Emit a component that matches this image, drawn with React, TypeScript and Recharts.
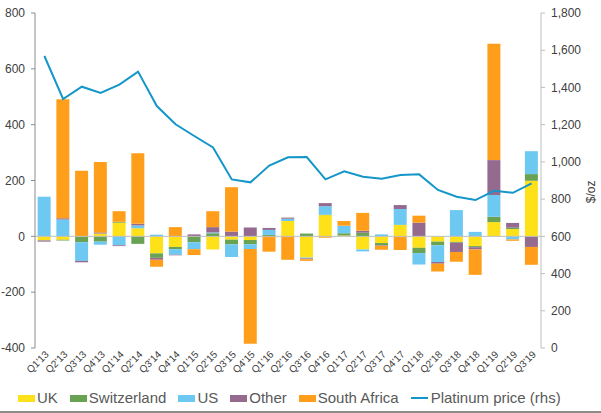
import { ComposedChart, Bar, Line, XAxis, YAxis, ReferenceLine, Legend } from 'recharts';

const quarters = [
  "Q1'13", "Q2'13", "Q3'13", "Q4'13", "Q1'14", "Q2'14", "Q3'14", "Q4'14", "Q1'15",
  "Q2'15", "Q3'15", "Q4'15", "Q1'16", "Q2'16", "Q3'16", "Q4'16", "Q1'17", "Q2'17",
  "Q3'17", "Q4'17", "Q1'18", "Q2'18", "Q3'18", "Q4'18", "Q1'19", "Q2'19", "Q3'19",
];

const uk = [-14, -12, 0, 10, 49, 29, -61, -38, 0, -47, -12, -13, 0, 55, -76, 76, 3, -47, -24, 41, -41, -19, -20, -35, 51, 26, 199];
const switzerland = [-1, -3, -21, -19, 3, -27, -16, -8, -21, 11, -17, -15, 5, 0, 10, 2, 8, 13, -8, 0, -19, -13, -3, -4, 19, 5, 24];
const us = [142, 60, -67, -11, -32, 10, 6, -20, -25, 3, -45, -17, 18, 8, -3, 30, 27, -7, 7, 57, -41, -60, 94, 16, 78, -11, 82];
const other = [-4, 5, -5, 4, -3, 6, -7, -2, 7, 19, 17, 32, 7, 4, -3, 11, 0, 7, -2, 14, 49, -6, -33, -8, 125, 17, -38];
const southAfrica = [0, 426, 235, 252, 38, 253, -25, 33, -21, 57, 159, -340, -55, -84, -6, -5, 17, 64, -14, -49, 25, -28, -35, -91, 417, -5, -64];
const platinumPrice = [1569, 1338, 1404, 1370, 1415, 1485, 1300, 1202, 1139, 1078, 906, 890, 980, 1025, 1026, 906, 949, 920, 910, 929, 933, 849, 813, 795, 845, 834, 885];

const leftTicks = [-400, -200, 0, 200, 400, 600, 800];
const rightTicks = [0, 200, 400, 600, 800, 1000, 1200, 1400, 1600, 1800];

const data = quarters.map((q, i) => ({
  q,
  uk: uk[i],
  switzerland: switzerland[i],
  us: us[i],
  other: other[i],
  southAfrica: southAfrica[i],
  price: platinumPrice[i],
}));

const series = [
  { key: 'uk', name: 'UK', color: '#FFE11A' },
  { key: 'switzerland', name: 'Switzerland', color: '#6AA253' },
  { key: 'us', name: 'US', color: '#6DC8F2' },
  { key: 'other', name: 'Other', color: '#956A8F' },
  { key: 'southAfrica', name: 'South Africa', color: '#FF9E1A' },
];
const lineColor = '#1497C8';
const font = '"Liberation Sans", Arial, sans-serif';

const QuarterTick = (props: any) => {
  const { x, y, payload } = props;
  const ax = x + 5;
  return (
    <text x={ax} y={y} transform={`rotate(-45, ${ax}, ${y})`} textAnchor="end"
      fontSize={10} fill="#404040" fontFamily={font}>
      {payload.value}
    </text>
  );
};

const LegendContent = () => (
  <div style={{ display: 'flex', alignItems: 'center', paddingLeft: 18, fontSize: 15, lineHeight: '20px', color: '#595959', fontFamily: font, whiteSpace: 'nowrap' }}>
    {series.map((s) => (
      <span key={s.key} style={{ display: 'flex', alignItems: 'center', marginRight: 12 }}>
        <span style={{ width: 17, height: 7, background: s.color, marginRight: 2 }} />
        {s.name}
      </span>
    ))}
    <span style={{ display: 'flex', alignItems: 'center' }}>
      <span style={{ width: 17, height: 2, background: lineColor, marginRight: 3 }} />
      Platinum price (rhs)
    </span>
  </div>
);

export default function App() {
  return (
    <div style={{ position: 'absolute', left: 0, top: 0, width: 601, height: 413, background: '#fff' }}>
      <ComposedChart width={601} height={413} data={data} stackOffset="sign"
        margin={{ top: 13, right: 0, bottom: 0, left: 0 }} barCategoryGap="14%">
        <XAxis dataKey="q" interval={0} axisLine={false} tickLine={false} tickSize={0} tickMargin={7}
          height={40} tick={<QuarterTick />} />
        <YAxis yAxisId="left" domain={[-400, 800]} ticks={leftTicks} width={35}
          axisLine={{ stroke: '#8c8c8c' }} tickLine={{ stroke: '#8c8c8c' }} tickSize={4} tickMargin={6}
          tick={{ fontSize: 12, fill: '#404040', fontFamily: font }} />
        <YAxis yAxisId="right" orientation="right" domain={[0, 1800]} ticks={rightTicks} width={60}
          axisLine={{ stroke: '#BFBFBF' }} tickLine={{ stroke: '#BFBFBF' }} tickSize={4} tickMargin={6}
          tickFormatter={(v: number) => v.toLocaleString('en-US')}
          tick={{ fontSize: 12, fill: '#404040', fontFamily: font }}
          label={{ value: '$/oz', angle: -90, position: 'insideRight', offset: 10, fontSize: 12, fill: '#404040', fontFamily: font }} />
        <ReferenceLine yAxisId="left" y={0} stroke="#BFBFBF" />
        {series.map((s) => (
          <Bar key={s.key} dataKey={s.key} name={s.name} stackId="a" yAxisId="left" fill={s.color}
            isAnimationActive={false} />
        ))}
        <Line type="linear" dataKey="price" name="Platinum price (rhs)" yAxisId="right" stroke={lineColor}
          strokeWidth={2} dot={false} isAnimationActive={false} />
        <Legend verticalAlign="bottom" height={25} content={<LegendContent />}
          wrapperStyle={{ left: 0, top: 388, bottom: 'auto', width: 601 }} />
      </ComposedChart>
      <div style={{ position: 'absolute', left: 0, top: 411, width: 601, height: 2, background: '#8c8c84' }} />
    </div>
  );
}
